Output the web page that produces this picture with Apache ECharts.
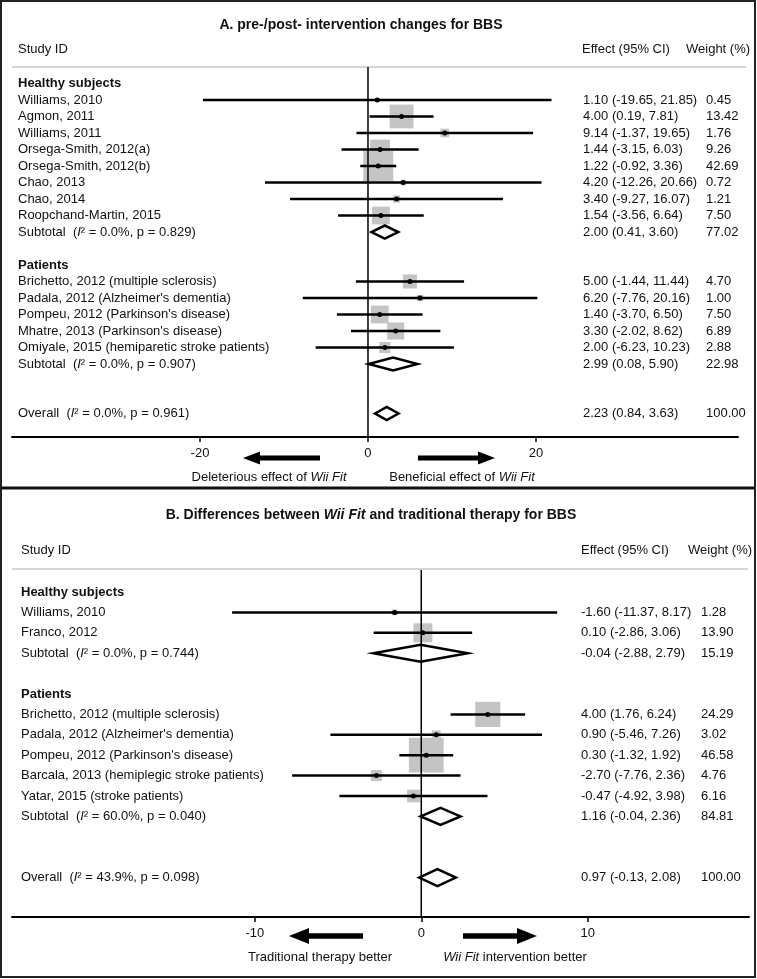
<!DOCTYPE html>
<html><head><meta charset="utf-8">
<script src="https://cdn.jsdelivr.net/npm/echarts@6/dist/echarts.min.js"></script>
<style>html,body{margin:0;padding:0;background:#fff}#c{width:757px;height:979px}</style>
</head><body><div id="c"></div>
<script>
// ---------- Panel A data ----------
const aLabels = ['Healthy subjects','Williams, 2010','Agmon, 2011','Williams, 2011','Orsega-Smith, 2012(a)','Orsega-Smith, 2012(b)','Chao, 2013','Chao, 2014','Roopchand-Martin, 2015','Subtotal  ({i|I}² = 0.0%, p = 0.829)','','Patients','Brichetto, 2012 (multiple sclerosis)',"Padala, 2012 (Alzheimer's dementia)","Pompeu, 2012 (Parkinson's disease)","Mhatre, 2013 (Parkinson's disease)",'Omiyale, 2015 (hemiparetic stroke patients)','Subtotal  ({i|I}² = 0.0%, p = 0.907)','','','Overall  ({i|I}² = 0.0%, p = 0.961)'];
const aKind = ['head','study','study','study','study','study','study','study','study','sum','','head','study','study','study','study','study','sum','','','sum'];
const aEst = [null,1.10,4.00,9.14,1.44,1.22,4.20,3.40,1.54,2.00,null,null,5.00,6.20,1.40,3.30,2.00,2.99,null,null,2.23];
const aLo  = [null,-19.65,0.19,-1.37,-3.15,-0.92,-12.26,-9.27,-3.56,0.41,null,null,-1.44,-7.76,-3.70,-2.02,-6.23,0.08,null,null,0.84];
const aHi  = [null,21.85,7.81,19.65,6.03,3.36,20.66,16.07,6.64,3.60,null,null,11.44,20.16,6.50,8.62,10.23,5.90,null,null,3.63];
const aWt  = [null,0.45,13.42,1.76,9.26,42.69,0.72,1.21,7.50,77.02,null,null,4.70,1.00,7.50,6.89,2.88,22.98,null,null,100.00];
const aTicks = [-20,0,20];

// ---------- Panel B data ----------
const bLabels = ['Healthy subjects','Williams, 2010','Franco, 2012','Subtotal  ({i|I}² = 0.0%, p = 0.744)','','Patients','Brichetto, 2012 (multiple sclerosis)',"Padala, 2012 (Alzheimer's dementia)","Pompeu, 2012 (Parkinson's disease)",'Barcala, 2013 (hemiplegic stroke patients)','Yatar, 2015 (stroke patients)','Subtotal  ({i|I}² = 60.0%, p = 0.040)','','','Overall  ({i|I}² = 43.9%, p = 0.098)'];
const bKind = ['head','study','study','sum','','head','study','study','study','study','study','sum','','','sum'];
const bEst = [null,-1.60,0.10,-0.04,null,null,4.00,0.90,0.30,-2.70,-0.47,1.16,null,null,0.97];
const bLo  = [null,-11.37,-2.86,-2.88,null,null,1.76,-5.46,-1.32,-7.76,-4.92,-0.04,null,null,-0.13];
const bHi  = [null,8.17,3.06,2.79,null,null,6.24,7.26,1.92,2.36,3.98,2.36,null,null,2.08];
const bWt  = [null,1.28,13.90,15.19,null,null,24.29,3.02,46.58,4.76,6.16,84.81,null,null,100.00];
const bTicks = [-10,0,10];

const FONT = '"Liberation Sans", Arial, Helvetica, sans-serif';
const TXT = '#111';
const RICH = {
  i:  {fontStyle:'italic', fontSize:13, fontFamily:FONT, fill:TXT},
  b:  {fontWeight:'bold', fontSize:14, fontFamily:FONT, fill:TXT},
  bi: {fontWeight:'bold', fontStyle:'italic', fontSize:14, fontFamily:FONT, fill:TXT}
};

function fmt(v){ return v.toFixed(2); }

function panelSeries(gi, labels, kind, est, lo, hi, wt, cfg){
  const idx = labels.map((_, i) => i);
  const studies = idx.filter(i => kind[i] === 'study');
  const sums = idx.filter(i => kind[i] === 'sum');
  const common = {type:'custom', xAxisIndex:gi, yAxisIndex:gi, clip:false, silent:true};
  return [
    Object.assign({}, common, {
      data: studies.map(i => [est[i], i, wt[i]]),
      renderItem: (p, api) => {
        const c = api.coord([api.value(0), api.value(1)]);
        const s = Math.min(cfg.boxK * Math.sqrt(api.value(2)), cfg.boxCap);
        return {type:'rect', shape:{x:c[0]-s/2, y:c[1]-s/2, width:s, height:s}, style:{fill:'#c4c4c4'}};
      }
    }),
    Object.assign({}, common, {
      data: studies.map(i => [est[i], i, lo[i], hi[i]]),
      renderItem: (p, api) => {
        const r = api.value(1);
        const c = api.coord([api.value(0), r]);
        const l = api.coord([api.value(2), r]);
        const h = api.coord([api.value(3), r]);
        return {type:'group', children:[
          {type:'line', shape:{x1:l[0], y1:l[1], x2:h[0], y2:h[1]}, style:{stroke:'#000', lineWidth:2.5}},
          {type:'circle', shape:{cx:c[0], cy:c[1], r:2.5}, style:{fill:'#000'}}
        ]};
      }
    }),
    Object.assign({}, common, {
      data: sums.map(i => [est[i], i, lo[i], hi[i]]),
      renderItem: (p, api) => {
        const r = api.value(1);
        const c = api.coord([api.value(0), r]);
        const l = api.coord([api.value(2), r]);
        const h = api.coord([api.value(3), r]);
        const d = cfg.dh;
        return {type:'polygon', shape:{points:[[l[0],c[1]],[c[0],c[1]-d],[h[0],c[1]],[c[0],c[1]+d]]},
                style:{fill:'#fff', stroke:'#000', lineWidth:2.5, lineJoin:'miter'}};
      }
    }),
    Object.assign({}, common, {
      data: [[0, 0]],
      renderItem: (p, api) => {
        const x = api.coord([0, 0])[0];
        const cs = p.coordSys;
        return {type:'line', shape:{x1:x, y1:cs.y, x2:x, y2:cs.y + cs.height}, style:{stroke:'#000', lineWidth:1.5}};
      }
    }),
    Object.assign({}, common, {
      data: idx.map(i => [0, i]),
      renderItem: (p, api) => {
        const i = api.value(1);
        const y = api.coord([0, i])[1];
        const ch = [];
        if (labels[i]) {
          ch.push({type:'text', style:{text:labels[i], x:cfg.labelX, y:y, align:'left', verticalAlign:'middle',
            font:(kind[i]==='head' ? 'bold ' : '') + '13px ' + FONT, fill:TXT, rich:RICH}});
        }
        if (est[i] !== null) {
          ch.push({type:'text', style:{text:fmt(est[i]) + ' (' + fmt(lo[i]) + ', ' + fmt(hi[i]) + ')', x:cfg.effX, y:y,
            align:'left', verticalAlign:'middle', font:'13px ' + FONT, fill:TXT}});
          ch.push({type:'text', style:{text:fmt(wt[i]), x:cfg.wtX, y:y,
            align:'left', verticalAlign:'middle', font:'13px ' + FONT, fill:TXT}});
        }
        return {type:'group', children:ch};
      }
    })
  ];
}

function xAxisCfg(gi, min, max, ticks){
  return {type:'value', gridIndex:gi, min:min, max:max,
    axisLine:{show:true, onZero:false, lineStyle:{color:'#000', width:2}},
    axisTick:{show:true, customValues:ticks, length:5, lineStyle:{color:'#000', width:1.5}},
    axisLabel:{show:true, customValues:ticks, fontSize:13, color:TXT, fontFamily:FONT, margin:10},
    splitLine:{show:false}};
}
function yAxisCfg(gi, min, max){
  return {type:'value', gridIndex:gi, min:min, max:max, inverse:true, show:false};
}

const chart = echarts.init(document.getElementById('c'), null, {renderer:'canvas'});

function txt(text, x, y, opts){
  return {type:'text', silent:true, style:Object.assign({text:text, x:x, y:y, font:'13px ' + FONT, fill:TXT,
    align:'left', verticalAlign:'middle', rich:RICH}, opts || {})};
}
function arrow(tip, tail, y, headLen, headH, shaftH){
  const dir = tail > tip ? 1 : -1;
  const hb = tip + dir * headLen;
  return {type:'polygon', silent:true, shape:{points:[[tip,y],[hb,y-headH],[hb,y-shaftH],[tail,y-shaftH],[tail,y+shaftH],[hb,y+shaftH],[hb,y+headH]]},
    style:{fill:'#000'}};
}

chart.setOption({
  animation:false,
  backgroundColor:'#fff',
  grid:[
    {left:12, top:67, width:726, height:370},
    {left:12, top:570, width:737, height:347}
  ],
  xAxis:[xAxisCfg(0, -42.38, 44.05, aTicks), xAxisCfg(1, -24.6, 19.7, bTicks)],
  yAxis:[yAxisCfg(0, -1.0, 21.424), yAxisCfg(1, -1.078, 15.93)],
  series: panelSeries(0, aLabels, aKind, aEst, aLo, aHi, aWt, {labelX:18, effX:583, wtX:706, boxK:6.5, boxCap:30, dh:6.5})
    .concat(panelSeries(1, bLabels, bKind, bEst, bLo, bHi, bWt, {labelX:21, effX:581, wtX:701, boxK:5.1, boxCap:60, dh:8.5})),
  graphic:[
    {type:'rect', silent:true, shape:{x:1, y:1, width:754, height:976}, style:{fill:'none', stroke:'#222', lineWidth:2}},
    {type:'line', silent:true, shape:{x1:1, y1:488, x2:755, y2:488}, style:{stroke:'#111', lineWidth:3}},
    // Panel A texts
    txt('A. pre-/post- intervention changes for BBS', 361, 25, {align:'center', font:'bold 14px ' + FONT}),
    txt('Study ID', 18, 49),
    txt('Effect (95% CI)', 582, 49),
    txt('Weight (%)', 686, 49),
    {type:'line', silent:true, shape:{x1:12, y1:67, x2:746, y2:67}, style:{stroke:'#c8c8c8', lineWidth:1.5}},
    arrow(243, 320, 458, 17, 6.5, 2.6),
    arrow(495, 418, 458, 17, 6.5, 2.6),
    txt('Deleterious effect of {i|Wii Fit}', 269, 477, {align:'center'}),
    txt('Beneficial effect of {i|Wii Fit}', 462, 477, {align:'center'}),
    // Panel B texts
    txt('{b|B. Differences between }{bi|Wii Fit}{b| and traditional therapy for BBS}', 371, 515, {align:'center', font:'bold 14px ' + FONT}),
    txt('Study ID', 21, 550),
    txt('Effect (95% CI)', 581, 550),
    txt('Weight (%)', 688, 550),
    {type:'line', silent:true, shape:{x1:12, y1:569, x2:748, y2:569}, style:{stroke:'#c8c8c8', lineWidth:1.5}},
    arrow(289, 363, 936, 20, 8, 2.7),
    arrow(537, 463, 936, 20, 8, 2.7),
    txt('Traditional therapy better', 320, 957, {align:'center'}),
    txt('{i|Wii Fit} intervention better', 515, 957, {align:'center'})
  ]
});
</script>
</body></html>
